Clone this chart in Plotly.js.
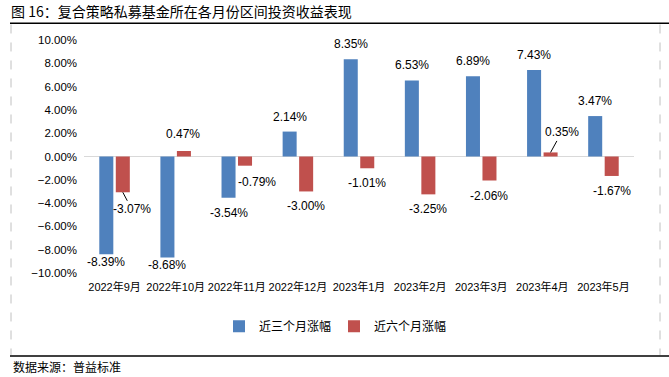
<!DOCTYPE html>
<html>
<head>
<meta charset="utf-8">
<script src="https://cdn.plot.ly/plotly-3.0.1.min.js"></script>
<style>
  html, body { margin: 0; padding: 0; background: #fff; }
  #chart { width: 669px; height: 377px; }
</style>
</head>
<body>
<div id="chart"></div>
<script>
// ---------- data ----------
const categories = ['2022年9月', '2022年10月', '2022年11月', '2022年12月', '2023年1月', '2023年2月', '2023年3月', '2023年4月', '2023年5月'];
const seriesNames = ['近三个月涨幅', '近六个月涨幅'];
const threeMonth = [-8.39, -8.68, -3.54, 2.14, 8.35, 6.53, 6.89, 7.43, 3.47];
const sixMonth = [-3.07, 0.47, -0.79, -3.00, -1.01, -3.25, -2.06, 0.35, -1.67];
const chartTitle = '图 16：复合策略私募基金所在各月份区间投资收益表现';
const sourceText = '数据来源：普益标准';

// ---------- style ----------
const W = 669, H = 377;
const M = { l: 84, r: 35, t: 40, b: 104.3 };
const colors = ['#4F81BD', '#C0504D'];
const numFont = 'Liberation Sans, Arial, Noto Sans CJK SC, sans-serif';
const cjkFont = 'Noto Sans CJK SC, sans-serif';
const barShift = 8.25;     // px offset of each bar from category centre
const labelGap = 15;       // px from bar end to label centre
// per-label nudges (px): [dx, dy(down positive), leader line?]
const nudgeThree = { 0: [0, -7.5, false], 1: [0, -8, false] };
const nudgeSix = { 0: [9, 2, true], 1: [-1, -2.5, false], 2: [11.5, 1, false], 7: [11, -5, true] };

const plotW = W - M.l - M.r, plotH = H - M.t - M.b;
const px2x = p => (p - M.l) / plotW;
const px2y = p => (H - M.b - p) / plotH;

function fmt(v) { return v.toFixed(2) + '%'; }

function labelAnnots(vals, side, nudges) {
  return vals.map((v, i) => {
    const sgn = v >= 0 ? 1 : -1;
    const n = nudges[i] || [0, 0, false];
    const base = {
      x: categories[i], y: v, xref: 'x', yref: 'y',
      text: fmt(v),
      font: { family: numFont, size: 12, color: '#000' },
      xanchor: 'center', yanchor: 'middle',
      xshift: side * barShift
    };
    if (n[2]) {
      return Object.assign(base, {
        showarrow: true, arrowhead: 0, arrowwidth: 1, arrowcolor: '#000',
        ax: n[0], ay: -(sgn * labelGap) + n[1], standoff: 0
      });
    }
    return Object.assign(base, {
      showarrow: false,
      xshift: side * barShift + n[0],
      yshift: sgn * labelGap - n[1]
    });
  });
}

const traces = [
  { type: 'bar', name: seriesNames[0], x: categories, y: threeMonth, marker: { color: colors[0] } },
  { type: 'bar', name: seriesNames[1], x: categories, y: sixMonth, marker: { color: colors[1] } }
];

const annotations = [].concat(
  labelAnnots(threeMonth, -1, nudgeThree),
  labelAnnots(sixMonth, 1, nudgeSix),
  [{
    xref: 'paper', yref: 'paper', x: px2x(11), y: px2y(366),
    xanchor: 'left', yanchor: 'middle', showarrow: false,
    text: sourceText, font: { family: cjkFont, size: 12, color: '#000' }
  }]
);

const frameLine = { color: '#000', width: 1.5 };
const dashLine = { color: '#C0C0C0', width: 1, dash: 'dash' };
const shapes = [
  { type: 'line', xref: 'paper', yref: 'paper', x0: px2x(10), x1: px2x(669), y0: px2y(23.3), y1: px2y(23.3), line: frameLine },
  { type: 'line', xref: 'paper', yref: 'paper', x0: px2x(10), x1: px2x(669), y0: px2y(355.5), y1: px2y(355.5), line: frameLine },
  { type: 'line', xref: 'paper', yref: 'paper', x0: px2x(11), x1: px2x(11), y0: px2y(24.5), y1: px2y(354.5), line: dashLine },
  { type: 'line', xref: 'paper', yref: 'paper', x0: px2x(660), x1: px2x(660), y0: px2y(24.5), y1: px2y(354.5), line: dashLine }
];

const layout = {
  width: W, height: H,
  margin: M,
  paper_bgcolor: '#fff', plot_bgcolor: '#fff',
  title: {
    text: chartTitle, xref: 'container', yref: 'container',
    x: 11 / W, xanchor: 'left', y: 1 - 12 / H, yanchor: 'middle',
    font: { family: cjkFont, size: 14, color: '#000', weight: 400 }
  },
  barmode: 'group', bargap: 0.46, bargroupgap: 0.15,
  xaxis: {
    type: 'category', showgrid: false, showline: false, zeroline: false,
    ticks: '', ticklabelstandoff: 6, tickangle: 0,
    tickfont: { family: numFont, size: 11, color: '#000' }
  },
  yaxis: {
    range: [-10, 10], dtick: 2, tick0: 0, tickformat: '.2f', ticksuffix: '%',
    showgrid: false, showline: false,
    zeroline: true, zerolinecolor: '#D9D9D9', zerolinewidth: 1,
    ticks: '', ticklabelstandoff: 6,
    tickfont: { family: numFont, size: 11.5, color: '#000' }
  },
  showlegend: true,
  legend: {
    orientation: 'h', x: px2x(334), xanchor: 'center', y: px2y(326), yanchor: 'middle',
    font: { family: cjkFont, size: 12, color: '#000' }, bgcolor: 'rgba(0,0,0,0)',
    entrywidth: 70, entrywidthmode: 'pixels', itemwidth: 30
  },
  annotations: annotations,
  shapes: shapes,
  hovermode: false
};

Plotly.newPlot('chart', traces, layout, { staticPlot: true, displayModeBar: false });
</script>
</body>
</html>
